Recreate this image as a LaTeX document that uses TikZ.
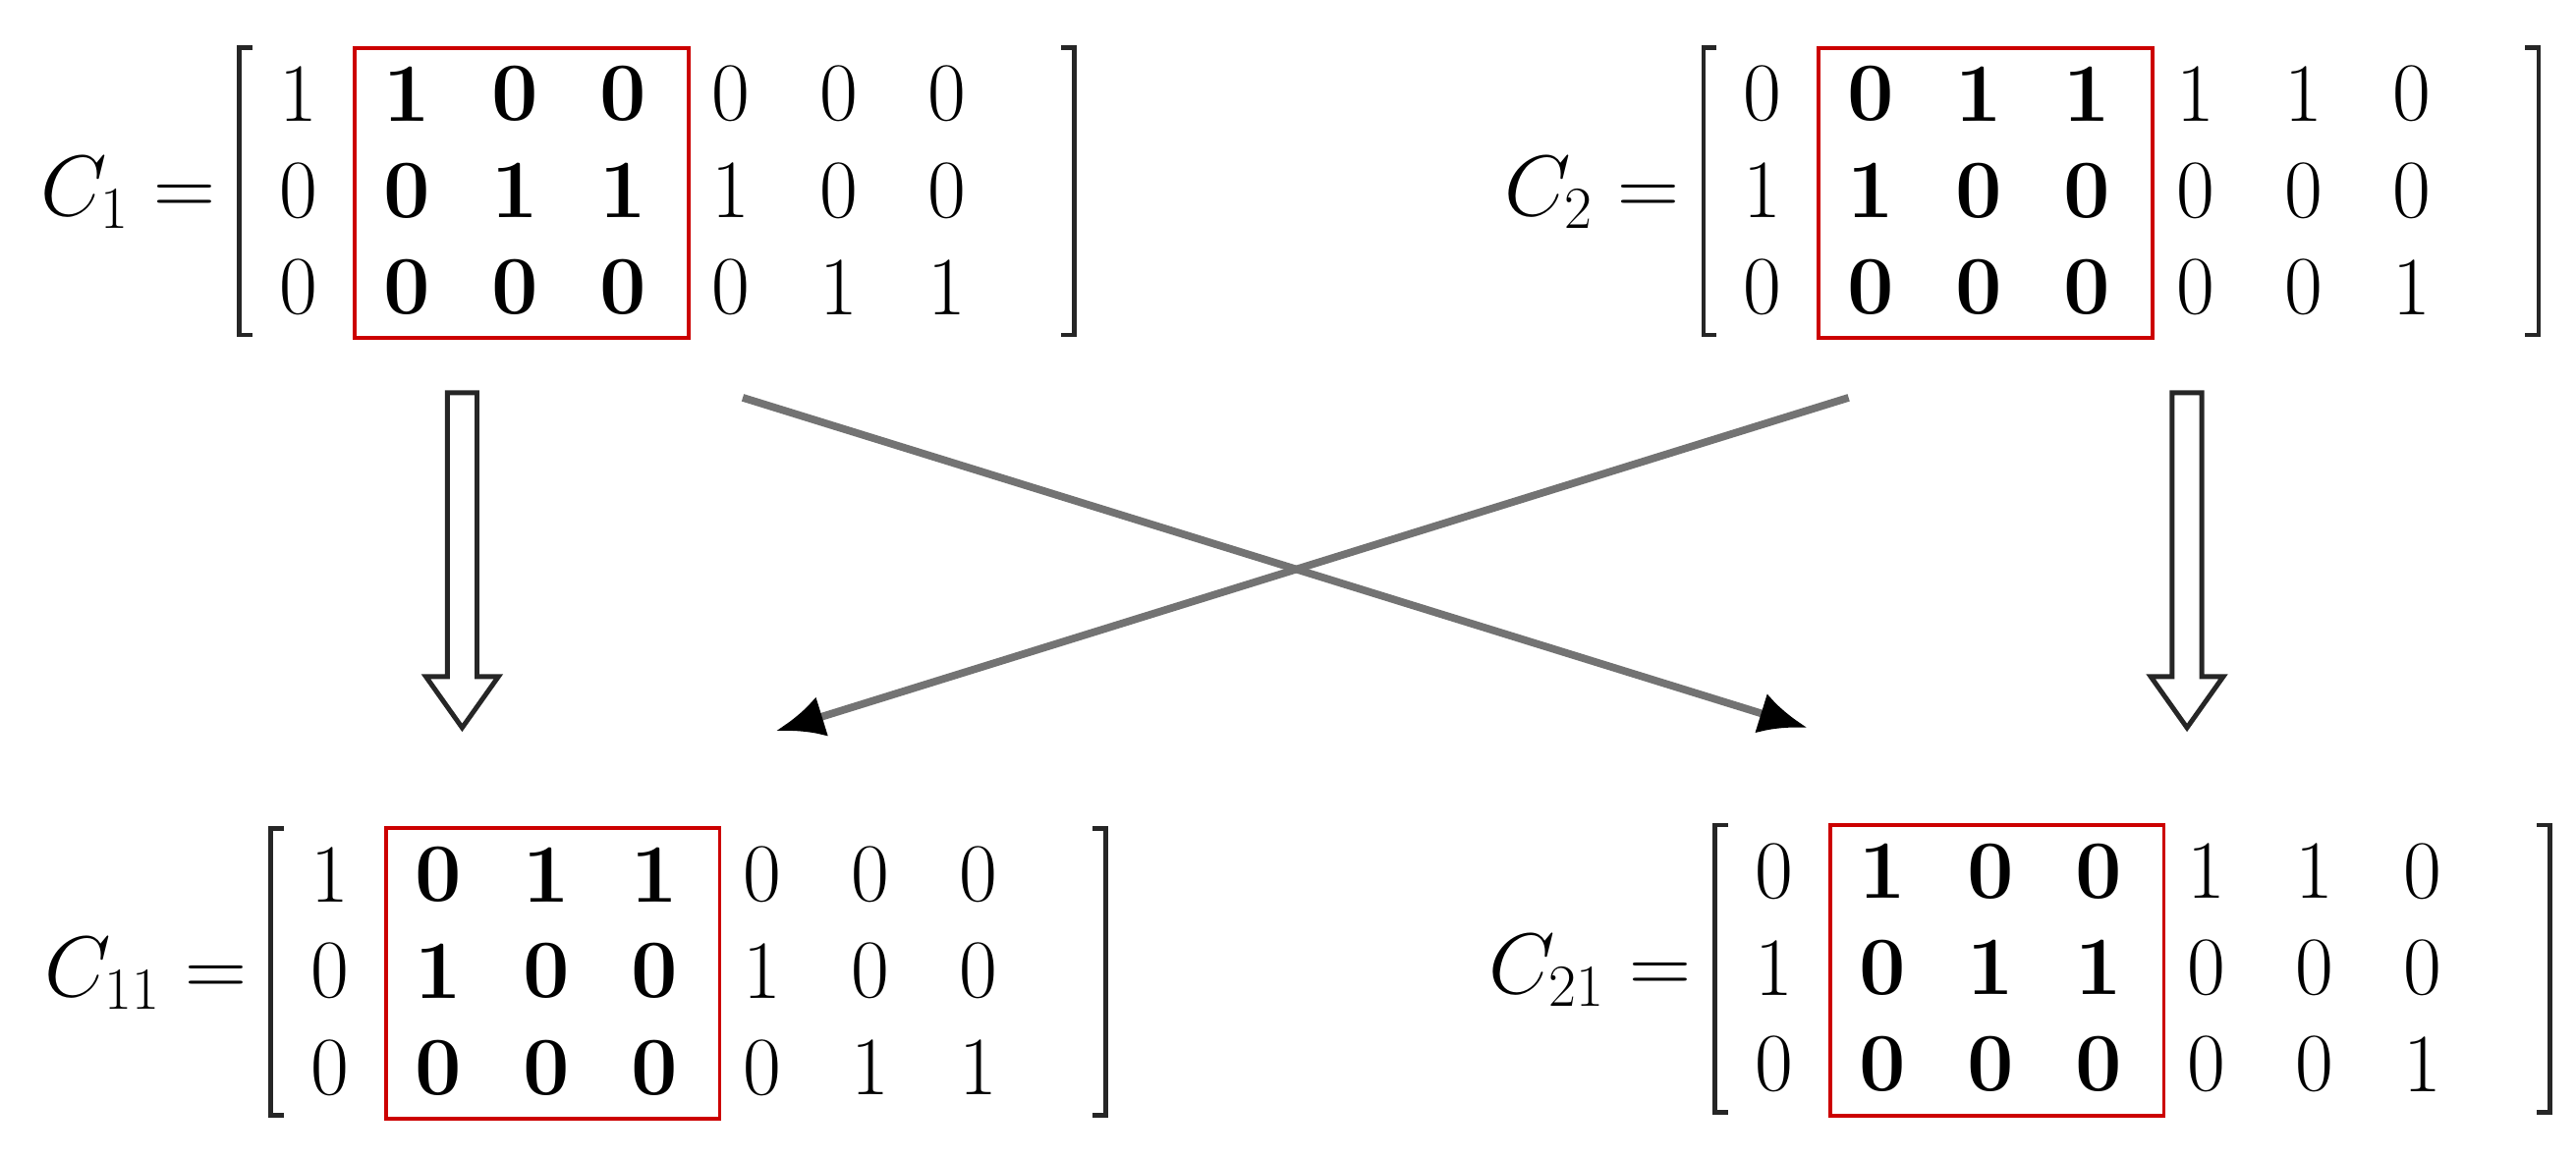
\documentclass[tikz,border=0pt]{standalone}
\usepackage{amsmath}
\usetikzlibrary{arrows.meta}
\begin{document}
\begin{tikzpicture}[x=0.0168cm,y=-0.0168cm,
  num/.style={inner sep=0pt,font=\fontsize{24}{30}\selectfont},
  lab/.style={inner sep=0pt,anchor=east,font=\fontsize{25}{30}\selectfont},
  redbox/.style={draw=red!80!black,line width=1.1pt},
  brk/.style={draw=black!85,line width=1.3pt},
  hollow/.style={draw=black!85,line width=1.4pt,fill=white},
  cross/.style={draw=black!55,line width=2.2pt,-{Latex[length=14pt,width=12pt,black]}}]
\useasboundingbox (0,0) rectangle (1560.7,701.8);
\newcommand\mymatrix[7]{%
  \foreach \r/\vals in {0/{#5},1/{#6},2/{#7}} {%
    \foreach \v [count=\c from 0] in \vals {%
      \node[num] (#1-\r-\c) at ({#2+\c*65.5},{#3+\r*58.5}) {\ifnum\c>0 \ifnum\c<4 \bfseries\fi\fi\v};}}
  \draw[brk] ({#2-28},{#3-28}) -- ({#2-36},{#3-28}) -- ({#2-36},{#3+146}) -- ({#2-28},{#3+146});
  \draw[brk] ({#2+462},{#3-28}) -- ({#2+470},{#3-28}) -- ({#2+470},{#3+146}) -- ({#2+462},{#3+146});
  \draw[redbox] ({#2+34},{#3-28}) rectangle ({#2+236},{#3+148});
  \node[lab] (#1-lab) at ({#2-50},{#3+60}) {$#4 =$};
}
\mymatrix{A}{181}{57}{C_1}{1,1,0,0,0,0,0}{0,0,1,1,1,0,0}{0,0,0,0,0,1,1}
\mymatrix{B}{1068}{57}{C_2}{0,0,1,1,1,1,0}{1,1,0,0,0,0,0}{0,0,0,0,0,0,1}
\mymatrix{P}{200}{530}{C_{11}}{1,0,1,1,0,0,0}{0,1,0,0,1,0,0}{0,0,0,0,0,1,1}
\mymatrix{Q}{1075}{528}{C_{21}}{0,1,0,0,1,1,0}{1,0,1,1,0,0,0}{0,0,0,0,0,0,1}
% hollow arrows
\foreach \xx in {280,1325}{
  \draw[hollow] (\xx-9,238) -- (\xx+9,238) -- (\xx+9,410) -- (\xx+22,410) -- (\xx,441) -- (\xx-22,410) -- (\xx-9,410) -- cycle;}
\coordinate (s1) at (450,241); \coordinate (e1) at (1095,441);
\coordinate (s2) at (1120,241); \coordinate (e2) at (470,443);
\draw[cross] (s1) -- (e1);
\draw[cross] (s2) -- (e2);
\end{tikzpicture}
\end{document}
